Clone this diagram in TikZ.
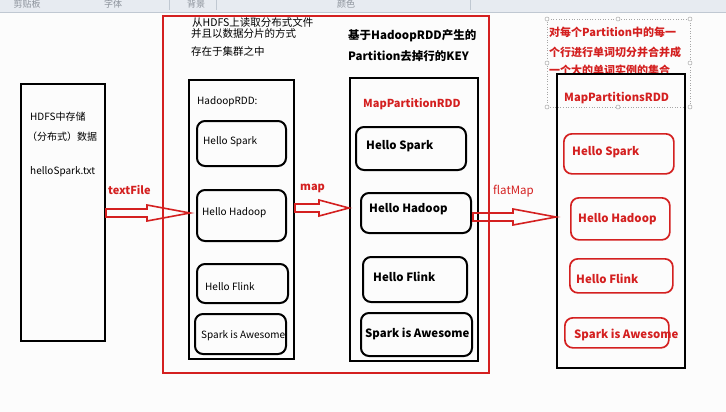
\documentclass[tikz,border=0pt]{standalone}
\usepackage{fontspec}
\setmainfont{Noto Sans CJK SC}
\usetikzlibrary{calc}

% hollow block arrow from a start point to a tip, head of given length
\newcommand{\blockarrow}[3]{%
  \draw[flowarrow] ($(#1)+(0,-4)$) -- ($(#2)+(-#3,-4)$) -- ($(#2)+(-#3,-8)$) -- (#2)
    -- ($(#2)+(-#3,8)$) -- ($(#2)+(-#3,4)$) -- ($(#1)+(0,4)$) -- cycle;}

\begin{document}
\begin{tikzpicture}[x=1pt,y=-1pt,
  box/.style={draw=black, line width=2pt, anchor=north west, inner sep=0pt},
  hitem/.style={box, rounded corners=8pt},
  ritem/.style={box, draw=redline, line width=1.7pt, rounded corners=8pt},
  txt/.style={anchor=west, inner sep=0pt},
  htext/.style={txt, font=\fontsize{10}{12}\selectfont},
  mtext/.style={txt, font=\bfseries\fontsize{11.4}{13}\selectfont},
  rtext/.style={mtext, text=redline},
  flowarrow/.style={draw=redline, line width=1.6pt, line join=miter},
  handle/.style={draw=gray!70, fill=white, line width=0.5pt}]
\definecolor{redline}{RGB}{212,32,32}
\definecolor{ribbon}{RGB}{231,235,241}
\definecolor{ribbonline}{RGB}{192,200,210}
\definecolor{ribbontext}{RGB}{140,146,155}
\definecolor{paper}{RGB}{252,252,252}
\useasboundingbox (0,0) rectangle (726,412);
\clip (0,0) rectangle (726,412);
\fill[paper] (0,0) rectangle (726,412);
% ribbon strip of the editor
\fill[ribbon] (0,0) rectangle (726,13);
\draw[ribbonline, line width=1pt] (0,13) -- (726,13);
\draw[ribbonline, line width=0.6pt] (169,0) -- (169,10) (216,0) -- (216,10) (470,0) -- (470,10);
\node[text=ribbontext, font=\fontsize{9}{10}\selectfont] (rb1) at (27,4) {剪贴板};
\node[text=ribbontext, font=\fontsize{9}{10}\selectfont] (rb2) at (113,4) {字体};
\node[text=ribbontext, font=\fontsize{9}{10}\selectfont] (rb3) at (196,4) {背景};
\node[text=ribbontext, font=\fontsize{9}{10}\selectfont] (rb4) at (346,4) {颜色};

% HDFS file
\node[box, minimum width=84pt, minimum height=257pt] (hdfs) at (20,83) {};
\node[htext] (hdfs1) at (30,117) {HDFS中存储};
\node[htext] (hdfs2) at (27,137) {（分布式）数据};
\node[htext] (hdfs3) at (30,172) {helloSpark.txt};

% red frame around the two RDDs
\node[box, draw=redline, minimum width=326pt, minimum height=357pt] (frame) at (162,15) {};
\node[htext, font=\fontsize{10.5}{12}\selectfont] (note1) at (192,23) {从HDFS上读取分布式文件};
\node[htext, font=\fontsize{10.5}{12}\selectfont] (note2) at (191,34) {并且以数据分片的方式};
\node[htext, font=\fontsize{10.5}{12}\selectfont] (note3) at (191,51) {存在于集群之中};
\node[mtext, font=\bfseries\fontsize{11.5}{13}\selectfont] (note4) at (348,36) {基于HadoopRDD产生的};
\node[mtext, font=\bfseries\fontsize{11.5}{13}\selectfont] (note5) at (348,56) {Partition去掉行的KEY};

% HadoopRDD
\node[box, minimum width=105pt, minimum height=279pt] (hrdd) at (188,79) {};
\node[htext] (hrddname) at (197,102) {HadoopRDD:};
\node[hitem, minimum width=89pt, minimum height=45pt] (hs) at (196,120) {};
\node[hitem, minimum width=89pt, minimum height=51pt] (hh) at (196,189) {};
\node[hitem, minimum width=91pt, minimum height=39pt] (hf) at (196,263) {};
\node[hitem, minimum width=91pt, minimum height=40pt] (ha) at (194,313) {};
\node[htext] (hst) at (203,142) {Hello Spark};
\node[htext] (hht) at (202,213) {Hello Hadoop};
\node[htext] (hft) at (205,287) {Hello Flink};
\node[htext] (hat) at (201,336) {Spark is Awesome};

% MapPartitionRDD
\node[box, minimum width=128pt, minimum height=283pt] (mrdd) at (349,77) {};
\node[rtext, font=\bfseries\fontsize{11}{13}\selectfont] (mrddname) at (363,104) {MapPartitionRDD};
\node[hitem, minimum width=110pt, minimum height=43pt] (ms) at (355,126) {};
\node[hitem, minimum width=110pt, minimum height=40pt] (mh) at (360,192) {};
\node[hitem, minimum width=104pt, minimum height=45pt] (mf) at (362,256) {};
\node[hitem, minimum width=111pt, minimum height=43pt] (ma) at (360,312) {};
\node[mtext] (mst) at (366,146) {Hello Spark};
\node[mtext] (mht) at (369,209) {Hello Hadoop};
\node[mtext] (mft) at (373,277) {Hello Flink};
\node[mtext] (mat) at (365,334) {Spark is Awesome};

% note over MapPartitionsRDD (selected text box)
\draw[gray!70, line width=0.6pt, dotted] (547,19) rectangle (690,107);
\foreach \hx/\hy in {547/19,618/19,690/19,547/63,690/63,547/107,618/107,690/107}
  \draw[handle] (\hx,\hy) circle (2pt);
\node[rtext, font=\bfseries\fontsize{11}{13}\selectfont] (flat1) at (549,32) {对每个Partition中的每一};
\node[rtext, font=\bfseries\fontsize{11}{13}\selectfont] (flat2) at (549,52) {个行进行单词切分并合并成};
\node[rtext, font=\bfseries\fontsize{11}{13}\selectfont] (flat3) at (549,70) {一个大的单词实例的集合};

% MapPartitionsRDD
\node[box, minimum width=128pt, minimum height=294pt] (mprdd) at (556,73) {};
\node[rtext, font=\bfseries\fontsize{11.2}{13}\selectfont] (mprddname) at (564,98) {MapPartitionsRDD};
\node[ritem, minimum width=110pt, minimum height=40pt] (rs) at (563,133) {};
\node[ritem, minimum width=99pt, minimum height=42pt] (rh) at (570,197) {};
\node[ritem, minimum width=103pt, minimum height=34pt] (rf) at (569,258) {};
\node[ritem, minimum width=104pt, minimum height=30pt] (ra) at (564,317) {};
\node[rtext] (rst) at (572,152) {Hello Spark};
\node[rtext] (rht) at (578,219) {Hello Hadoop};
\node[rtext] (rft) at (576,279) {Hello Flink};
\node[rtext] (rat) at (574,335) {Spark is Awesome};

% transformations
\coordinate (tf0) at (hdfs.east |- 0,213);
\coordinate (tf1) at (190,213);
\coordinate (mp0) at (hrdd.east |- 0,208);
\coordinate (mp1) at (mrdd.west |- 0,208);
\coordinate (fm0) at (473,217);
\coordinate (fm1) at (mprdd.west |- 0,217);
\blockarrow{tf0}{tf1}{43}
\blockarrow{mp0}{mp1}{30}
\blockarrow{fm0}{fm1}{43}
\node[rtext, font=\bfseries\fontsize{11}{13}\selectfont] (tflabel) at (108,190) {textFile};
\node[rtext, font=\bfseries\fontsize{11}{13}\selectfont] (mplabel) at (300,188) {map};
\node[txt, text=redline, font=\fontsize{11.5}{13}\selectfont] (fmlabel) at (493,191) {flatMap};
\end{tikzpicture}
\end{document}
